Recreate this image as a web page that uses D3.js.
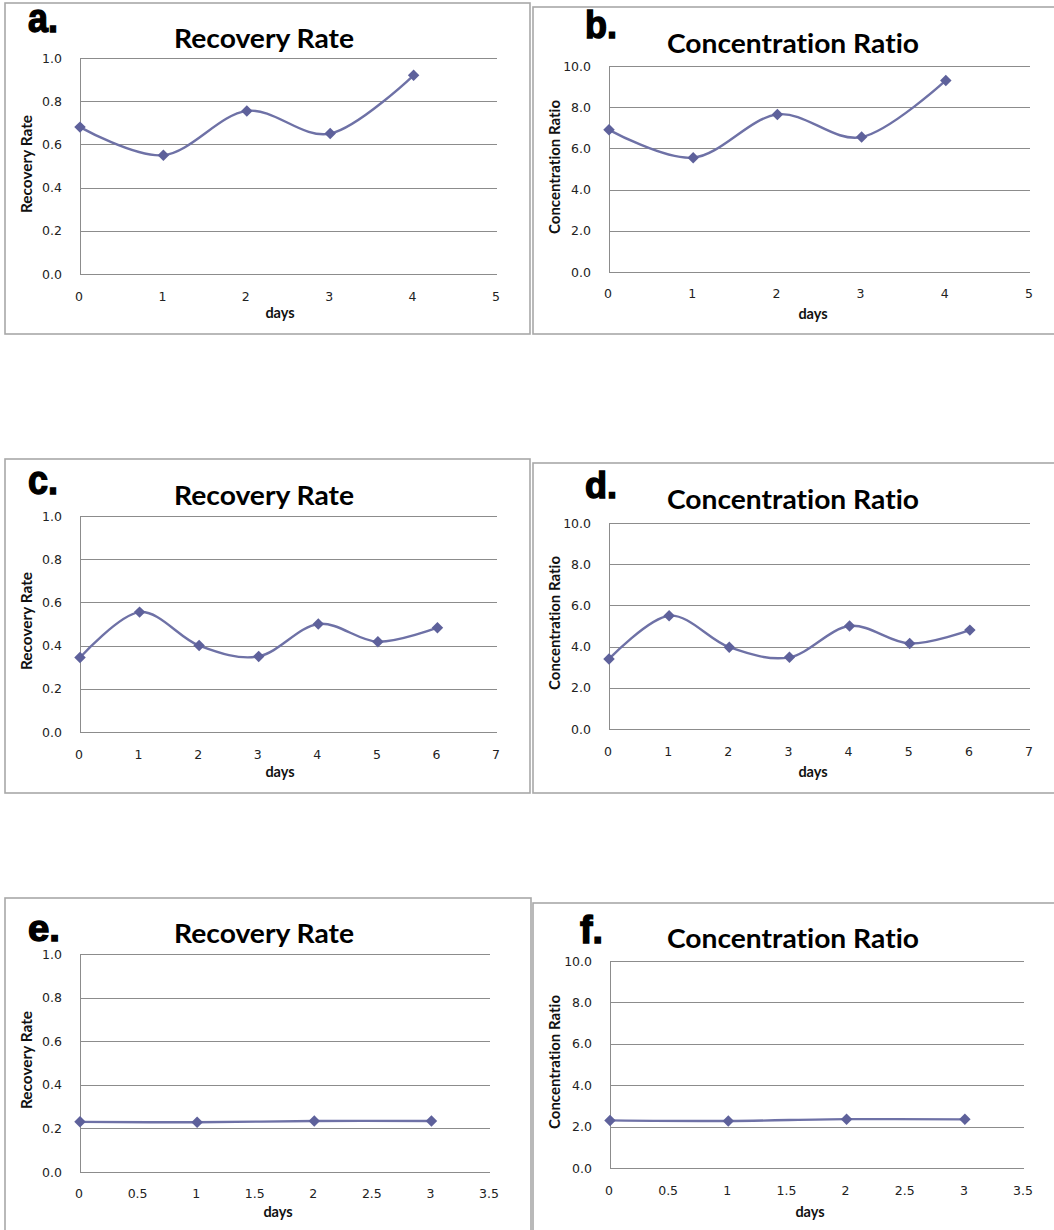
<!DOCTYPE html>
<html>
<head>
<meta charset="utf-8">
<script src="https://cdn.jsdelivr.net/npm/d3@7"></script>
<style>
  html, body { margin: 0; padding: 0; background: #fff; }
  svg { display: block; }
  text { font-variant-ligatures: none; }
</style>
</head>
<body>
<svg id="fig" width="1054" height="1230"></svg>
<script>
// ---- data ----
const daysAB = [0, 1, 2, 3, 4];
const recoveryA = [0.68, 0.55, 0.755, 0.65, 0.92];
const ratioB = [6.9, 5.55, 7.65, 6.55, 9.3];

const daysCD = [0, 1, 2, 3, 4, 5, 6];
const recoveryC = [0.345, 0.555, 0.40, 0.35, 0.50, 0.418, 0.483];
const ratioD = [3.4, 5.5, 3.97, 3.48, 5.0, 4.15, 4.8];

const daysEF = [0, 1, 2, 3];
const recoveryE = [0.23, 0.228, 0.234, 0.234];
const ratioF = [2.3, 2.27, 2.36, 2.35];

const rateTicks = [0, 0.2, 0.4, 0.6, 0.8, 1.0];
const ratioTicks = [0, 2, 4, 6, 8, 10];
const dayTicks5 = [0, 1, 2, 3, 4, 5];
const dayTicks7 = [0, 1, 2, 3, 4, 5, 6, 7];
const dayTicksHalf = [0, 0.5, 1, 1.5, 2, 2.5, 3, 3.5];

const rateTitle = "Recovery Rate";
const ratioTitle = "Concentration Ratio";
const xTitle = "days";

// ---- panel layout ----
const panels = [
  { letter: "a.", title: rateTitle, x: daysAB, y: recoveryA, yTicks: rateTicks, xTicks: dayTicks5,
    frame: [5, 3, 530, 334], plot: [80, 497, 58, 274], xLabY: 296, daysPos: [280, 313],
    titlePos: [264, 48], yTitlePos: [27, 164], letterPos: [28, 32, 40, 30] },
  { letter: "b.", title: ratioTitle, x: daysAB, y: ratioB, yTicks: ratioTicks, xTicks: dayTicks5,
    frame: [533, 7, 1060, 334], plot: [609, 1030, 66, 272], xLabY: 293, daysPos: [813, 314],
    titlePos: [793, 53], yTitlePos: [555, 167], letterPos: [585, 38, 38, 32] },
  { letter: "c.", title: rateTitle, x: daysCD, y: recoveryC, yTicks: rateTicks, xTicks: dayTicks7,
    frame: [5, 459, 530, 793], plot: [80, 497, 516, 732], xLabY: 754, daysPos: [280, 772],
    titlePos: [264, 505], yTitlePos: [27, 621], letterPos: [28, 494, 40, 30] },
  { letter: "d.", title: ratioTitle, x: daysCD, y: ratioD, yTicks: ratioTicks, xTicks: dayTicks7,
    frame: [533, 463, 1060, 793], plot: [609, 1030, 523, 729], xLabY: 751, daysPos: [813, 772],
    titlePos: [793, 509], yTitlePos: [555, 623], letterPos: [585, 498, 36, 32] },
  { letter: "e.", title: rateTitle, x: daysEF, y: recoveryE, yTicks: rateTicks, xTicks: dayTicksHalf,
    frame: [5, 898, 531, 1240], plot: [80, 490, 954, 1172], xLabY: 1193, daysPos: [278, 1212],
    titlePos: [264, 943], yTitlePos: [27, 1060], letterPos: [28, 941, 37, 32] },
  { letter: "f.", title: ratioTitle, x: daysEF, y: ratioF, yTicks: ratioTicks, xTicks: dayTicksHalf,
    frame: [533, 903, 1060, 1240], plot: [610, 1024, 961, 1168], xLabY: 1190, daysPos: [810, 1212],
    titlePos: [793, 948], yTitlePos: [555, 1062], letterPos: [580, 943, 38, 23] }
];

// rendered widths of the title strings (chart title, rotated axis title)
const titleWidth = { [rateTitle]: 180, [ratioTitle]: 252 };
const axisTitleWidth = { [rateTitle]: 98, [ratioTitle]: 134 };

const svg = d3.select("#fig");
const gridColor = "#8c8c8c";
const lineColor = "#6e71a6";
const markerColor = "#5e619b";
const tickFont = "'DejaVu Sans', Verdana, sans-serif";
const labelFont = "Lato, 'Open Sans', sans-serif";

panels.forEach(p => {
  const g = svg.append("g");
  const [fx0, fy0, fx1, fy1] = p.frame;
  g.append("rect")
    .attr("x", fx0).attr("y", fy0)
    .attr("width", fx1 - fx0).attr("height", fy1 - fy0)
    .attr("fill", "#fff").attr("stroke", "#a8a8a8").attr("stroke-width", 1.6);

  const [px0, px1, py0, py1] = p.plot;
  const xs = d3.scaleLinear().domain([0, d3.max(p.xTicks)]).range([px0, px1]);
  const ys = d3.scaleLinear().domain([0, d3.max(p.yTicks)]).range([py1, py0]);

  // horizontal gridlines
  g.append("g").selectAll("line").data(p.yTicks).join("line")
    .attr("x1", px0).attr("x2", px1)
    .attr("y1", d => Math.round(ys(d)) + 0.5).attr("y2", d => Math.round(ys(d)) + 0.5)
    .attr("stroke", gridColor).attr("stroke-width", 1);

  // value axis line
  g.append("line")
    .attr("x1", px0 + 0.5).attr("x2", px0 + 0.5)
    .attr("y1", py0).attr("y2", py1)
    .attr("stroke", gridColor).attr("stroke-width", 1);

  // y tick labels
  const fmtY = d3.format(".1f");
  g.append("g").selectAll("text").data(p.yTicks).join("text")
    .attr("x", px0 - 18).attr("y", d => ys(d))
    .attr("dy", "0.36em")
    .attr("text-anchor", "end")
    .attr("font-family", tickFont).attr("font-size", 12.5).attr("fill", "#222")
    .text(d => fmtY(d));

  // x tick labels
  g.append("g").selectAll("text").data(p.xTicks).join("text")
    .attr("x", d => xs(d) - 1).attr("y", p.xLabY)
    .attr("dy", "0.36em")
    .attr("text-anchor", "middle")
    .attr("font-family", tickFont).attr("font-size", 12.5).attr("fill", "#222")
    .text(d => d3.format("~g")(d));

  // axis titles
  g.append("text")
    .attr("x", p.daysPos[0]).attr("y", p.daysPos[1]).attr("dy", "0.32em")
    .attr("text-anchor", "middle")
    .attr("font-family", labelFont).attr("font-weight", "bold").attr("font-size", 14.5).attr("fill", "#111")
    .text(xTitle);

  g.append("text")
    .attr("transform", `translate(${p.yTitlePos[0]},${p.yTitlePos[1]}) rotate(-90)`)
    .attr("dy", "0.35em")
    .attr("text-anchor", "middle")
    .attr("font-family", labelFont).attr("font-weight", "bold").attr("font-size", 14.5).attr("fill", "#111")
    .attr("textLength", axisTitleWidth[p.title]).attr("lengthAdjust", "spacingAndGlyphs")
    .text(p.title);

  // chart title
  g.append("text")
    .attr("x", p.titlePos[0]).attr("y", p.titlePos[1])
    .attr("text-anchor", "middle")
    .attr("font-family", labelFont).attr("font-weight", "bold").attr("font-size", 26).attr("fill", "#000")
    .attr("textLength", titleWidth[p.title]).attr("lengthAdjust", "spacingAndGlyphs")
    .text(p.title);

  // panel letter
  const [lx, ly, lsize, lw] = p.letterPos;
  g.append("text")
    .attr("x", lx).attr("y", ly)
    .attr("font-family", "'Liberation Sans', Arial, sans-serif").attr("font-weight", "bold")
    .attr("font-size", lsize).attr("fill", "#000")
    .attr("stroke", "#000").attr("stroke-width", 1.4)
    .attr("textLength", lw).attr("lengthAdjust", "spacingAndGlyphs")
    .text(p.letter);

  // smoothed series line
  const pts = p.x.map((d, i) => [d, p.y[i]]);
  const line = d3.line()
    .x(d => xs(d[0])).y(d => ys(d[1]))
    .curve(d3.curveCatmullRom.alpha(0));
  g.append("path")
    .attr("d", line(pts))
    .attr("fill", "none").attr("stroke", lineColor).attr("stroke-width", 2.4);

  // diamond markers
  const diamond = d3.symbol(d3.symbolSquare, 66);
  g.append("g").selectAll("path").data(pts).join("path")
    .attr("d", diamond)
    .attr("transform", d => `translate(${xs(d[0])},${ys(d[1])}) rotate(45)`)
    .attr("fill", markerColor);
});
</script>
</body>
</html>
